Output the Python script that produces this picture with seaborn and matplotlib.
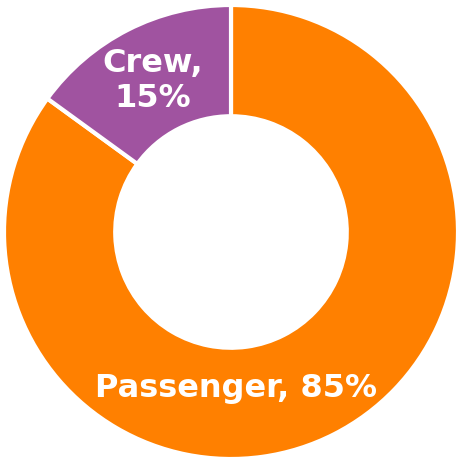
import matplotlib
matplotlib.use("Agg")
import matplotlib.pyplot as plt
import seaborn as sns
import numpy as np

categories = ["Passenger", "Crew"]
values = [85, 15]
colors = ["#FF8000", "#A053A0"]

sns.set_theme(style="white")
plt.rcParams['font.family'] = ['DejaVu Sans']

fig = plt.figure(figsize=(4.62, 4.62), dpi=100)
ax = fig.add_axes([0, 0, 1, 1])
wedges, _ = ax.pie(values, colors=colors, startangle=90, counterclock=False,
                   radius=1.0, wedgeprops=dict(width=0.49, edgecolor="white", linewidth=3))
ax.set_xlim(-231/227, 231/227)
ax.set_ylim(-230/227, 232/227)
ax.set_aspect("equal")
ax.axis("off")

# labels
label_specs = {"Passenger": (-88, 0.69, "{c}, {v}%"), "Crew": (117.5, 0.75, "{c},\n{v}%")}
for w, c, v in zip(wedges, categories, values):
    ang, r, fmt = label_specs[c]
    x, y = r*np.cos(np.deg2rad(ang)), r*np.sin(np.deg2rad(ang))
    ax.text(x, y, fmt.format(c=c, v=v), ha="center", va="center", color="white",
            fontsize=23, fontweight="bold", linespacing=1.15)

fig.savefig("out.png", dpi=100)
